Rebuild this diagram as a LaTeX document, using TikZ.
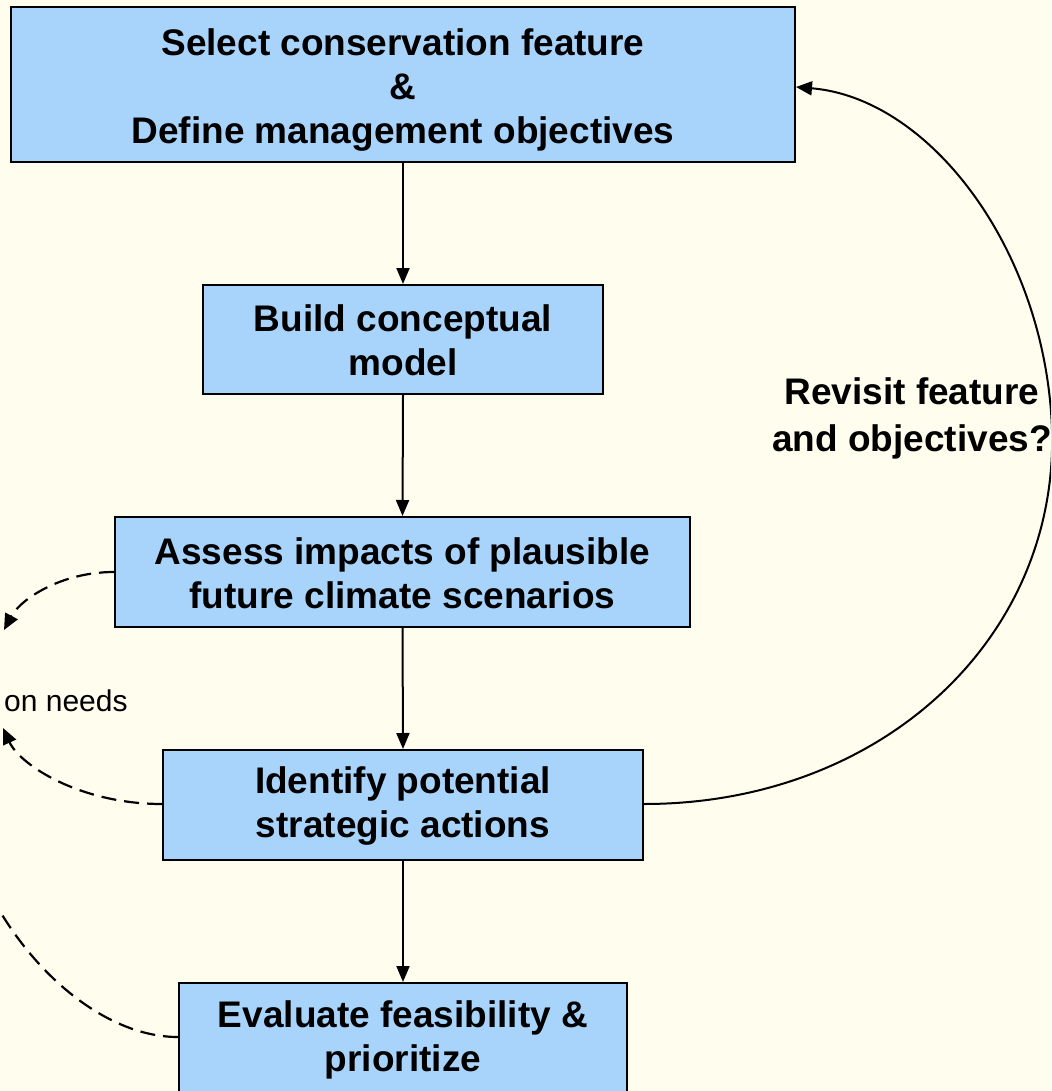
\documentclass[tikz,border=0pt]{standalone}
\usepackage{fontspec}
\setmainfont{Liberation Sans}
\usetikzlibrary{arrows.meta}
\definecolor{bgcol}{RGB}{255,254,238}
\definecolor{boxcol}{RGB}{168,212,252}
\newcommand{\topstrut}{\rule{0pt}{37pt}}
\newcommand{\twostrut}{\rule{0pt}{29pt}}
\tikzset{
  stepbox/.style={draw=black, line width=2pt, fill=boxcol, inner sep=0pt, align=center,
    font=\fontsize{37}{44}\selectfont\bfseries},
  flow/.style={line width=2pt, -{Triangle[length=16pt,width=13pt]}},
  loopback/.style={line width=2pt, -{Triangle[length=16pt,width=14pt]}},
  dashback/.style={line width=2.2pt, dash pattern=on 15pt off 8pt, -{Triangle[length=16pt,width=14pt]}},
  dashline/.style={line width=2.2pt, dash pattern=on 15pt off 8pt}
}
\begin{document}
\begin{tikzpicture}[x=1pt,y=-1pt]
\useasboundingbox (0,0) rectangle (1051,1091);
\clip (0,0) rectangle (1051,1091);
\fill[bgcol] (0,0) rectangle (1051,1091);

\node[stepbox, minimum width=784pt, minimum height=155pt] (sel) at (403,84.5)
  {\topstrut Select conservation feature\\ \&\\ Define management objectives};
\node[stepbox, minimum width=400pt, minimum height=109pt] (build) at (403,339.5)
  {\twostrut Build conceptual\\ model};
\node[stepbox, minimum width=575pt, minimum height=110pt] (assess) at (402.5,572)
  {\twostrut Assess impacts of plausible\\ future climate scenarios};
\node[stepbox, minimum width=480pt, minimum height=110pt] (ident) at (403,805)
  {\twostrut Identify potential\\ strategic actions};
\node[stepbox, minimum width=448pt, minimum height=112pt] (eval) at (403,1039)
  {\twostrut Evaluate feasibility \&\\ prioritize};

\draw[flow] (sel.south) -- (build.north);
\draw[flow] (build.south) -- (assess.north);
\draw[flow] (assess.south) -- (ident.north);
\draw[flow] (ident.south) -- (eval.north);

\node[font=\fontsize{37}{47}\selectfont\bfseries, align=center, inner sep=0pt] (rev) at (912,418)
  {Revisit feature\\ and objectives?};

\coordinate (rtop) at (1052,430);
\draw[loopback] (ident.east |- 0,804) .. controls (880,804) and (1058,640) .. (rtop)
  .. controls (1046,250) and (930,98) .. (sel.east |- 0,87);

\node[font=\fontsize{30}{36}\selectfont, anchor=west, inner sep=0pt] (needs) at (4,701) {on needs};

\coordinate (t1) at (4,630);
\coordinate (t2) at (3,728);
\coordinate (t3) at (-2,908);
\draw[dashback] (assess.west |- 0,572) .. controls (60,572) and (20,600) .. (t1);
\draw[dashback] (ident.west |- 0,804) .. controls (80,804) and (20,765) .. (t2);
\draw[dashline] (eval.west |- 0,1037) .. controls (110,1037) and (40,980) .. (t3);
\end{tikzpicture}
\end{document}
